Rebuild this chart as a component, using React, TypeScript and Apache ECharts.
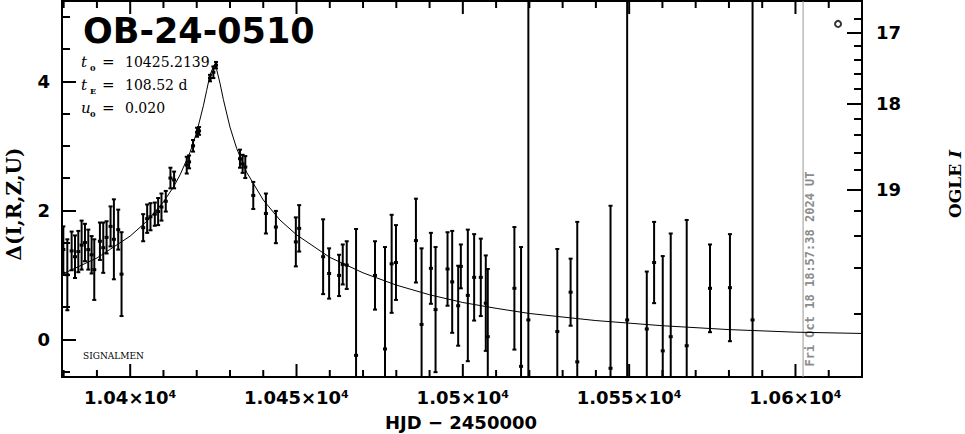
import React, { useEffect, useRef } from 'react';
import * as echarts from 'echarts';

// ---- axis ranges & ticks ----
const xMin = 10379.5;
const xMax = 10620;
const yMin = -0.585;
const yMax = 5.245;

const xMajorTicks = [10400, 10450, 10500, 10550, 10600];
const xMinorTicks = [10380, 10390, 10410, 10420, 10430, 10440, 10460, 10470, 10480, 10490, 10510, 10520, 10530, 10540, 10560, 10570, 10580, 10590, 10610];
const yMajorTicks = [0, 2, 4];
const yMinorTicks = [-0.5, 0.5, 1, 1.5, 2.5, 3, 3.5, 4.5, 5];

// OGLE I magnitude axis (right): magnitudes and their positions in Δ units
const ogleMajorMags = [17, 18, 19];
const ogleMajorDelta = [4.753, 3.648, 2.315];
const ogleMinorMags = [16.8, 17.2, 17.4, 17.6, 17.8, 18.2, 18.4, 18.6, 18.8, 19.2, 19.4, 19.6, 19.8];
const ogleMinorDelta = [4.966, 4.552, 4.33, 4.113, 3.881, 3.426, 3.167, 2.899, 2.625, 1.994, 1.606, 1.116, 0.392];

// ---- observations ----
const obsHJD = [
  10379.9, 10381.1, 10382.4, 10383.4, 10384.4, 10385.4, 10386.4, 10387.4, 10388.4, 10389.2,
  10390.9, 10391.9, 10392.9, 10394.1, 10395.1, 10396.4, 10397.4, 10403.9, 10405.1, 10406.1,
  10407.4, 10408.4, 10409.4, 10410.7, 10412.1, 10413.2, 10417.0, 10417.7, 10418.9, 10420.1,
  10420.7, 10424.0, 10425.0, 10425.8, 10433.0, 10433.8, 10434.6, 10437.0, 10440.8, 10443.8,
  10449.8, 10450.8, 10458.0, 10459.8, 10462.8, 10463.9, 10465.1, 10467.9, 10473.6, 10476.6,
  10478.6, 10479.9, 10485.9, 10487.6, 10490.4, 10491.8, 10495.4, 10496.8, 10498.6, 10499.4,
  10501.5, 10503.4, 10505.4, 10506.9, 10507.5, 10515.5, 10517.5, 10519.7, 10528.4, 10532.4,
  10534.4, 10544.4, 10549.4, 10555.3, 10557.5, 10560.1, 10562.5, 10567.3, 10574.3, 10580.3,
  10587.1,
];
const obsDelta = [
  1.39, 1.0, 1.37, 1.28, 1.36, 1.46, 1.5, 1.39, 1.31, 1.08,
  1.52, 1.42, 1.58, 1.75, 1.55, 1.7, 1.01, 1.73, 1.87, 1.9,
  1.94, 1.98, 2.05, 2.14, 2.5, 2.47, 2.7, 2.75, 3.0, 3.21,
  3.23, 4.05, 4.14, 4.25, 2.8, 2.72, 2.67, 2.23, 1.95, 1.74,
  1.51, 1.72, 1.28, 1.02, 0.99, 1.16, 1.15, -0.25, 0.99, -0.15,
  1.17, 1.19, 1.53, 0.23, 1.1, 0.46, 1.09, 0.89, 0.52, 1.13,
  0.68, 0.96, 0.96, 0.56, 0.04, 0.79, -0.42, 0.3, 0.12, 0.73,
  -0.35, -0.45, 0.3, 0.16, 1.19, -0.18, 0.04, -0.1, 0.79, 0.8,
  0.3,
];
const obsErr = [
  0.36, 0.55, 0.3, 0.33, 0.32, 0.38, 0.29, 0.31, 0.29, 0.47,
  0.29, 0.39, 0.25, 0.31, 0.62, 0.31, 0.65, 0.21, 0.22, 0.21,
  0.18, 0.21, 0.21, 0.16, 0.16, 0.13, 0.13, 0.1, 0.09, 0.07,
  0.06, 0.05, 0.09, 0.05, 0.14, 0.14, 0.17, 0.21, 0.31, 0.25,
  0.38, 0.36, 0.58, 0.39, 0.32, 0.31, 0.37, 1.96, 0.53, 1.58,
  0.76, 0.58, 0.65, 1.18, 0.55, 0.97, 0.57, 0.79, 0.62, 0.34,
  1.02, 0.67, 0.6, 0.74, 1.05, 0.95, 1.85, 9, 1.28, 0.52,
  2.17, 2.52, 9, 0.89, 0.63, 1.47, 1.6, 1.95, 0.68, 0.83,
  9,
];

// ---- model light curve ----
const modelHJD = [
  10379.5, 10380, 10390, 10400, 10405, 10410, 10413, 10415, 10418, 10420,
  10422, 10423, 10424, 10425.2, 10426, 10427, 10428, 10430, 10432, 10435,
  10440, 10445, 10450, 10460, 10470, 10480, 10490, 10500, 10510, 10520,
  10540, 10560, 10580, 10600, 10620,
];
const modelDelta = [
  1.01, 1.02, 1.26, 1.6, 1.83, 2.13, 2.36, 2.55, 2.9, 3.21,
  3.62, 3.86, 4.1, 4.25, 4.18, 3.97, 3.72, 3.29, 2.96, 2.59,
  2.16, 1.85, 1.62, 1.27, 1.03, 0.84, 0.69, 0.57, 0.48, 0.4,
  0.29, 0.21, 0.15, 0.11, 0.09,
];

// marker at top right and "now" line
const ogleMarker = [[10612.8, 4.89]];
const nowHJD = 10602.29;

const SANS = "'DejaVu Sans', sans-serif";
const SERIF = "'DejaVu Serif', serif";
const MONO = "'DejaVu Sans Mono', monospace";

function txt(x: number, y: number, text: string, st: any, extra: any = {}) {
  return {
    type: 'text',
    x,
    y,
    ...extra,
    style: {
      text,
      fill: '#000',
      align: 'left',
      textAlign: 'left',
      verticalAlign: 'middle',
      textVerticalAlign: 'middle',
      ...st,
    },
  };
}

function paramLine(y: number, sym: string, sub: string, value: string) {
  return [
    txt(81, y, sym, { fontFamily: SERIF, fontSize: 15, fontStyle: 'italic' }),
    txt(90, y + 6, sub, { fontFamily: SERIF, fontSize: 8, fontWeight: 'bold' }),
    txt(102, y, '=', { fontFamily: SERIF, fontSize: 15 }),
    txt(125, y, value, { fontFamily: SERIF, fontSize: 14 }),
  ];
}

function textGraphics(): any[] {
  return [
    txt(83, 31, 'OB-24-0510', { fontFamily: SANS, fontSize: 35, fontWeight: 'bold' }),
    ...paramLine(62, 't', '0', '10425.2139'),
    ...paramLine(85, 't', 'E', '108.52 d'),
    ...paramLine(108, 'u', '0', '0.020'),
    txt(83, 355.5, 'SIGNALMEN', { fontFamily: SERIF, fontSize: 9 }),
    txt(14, 204, 'Δ(I,R,Z,U)', { fontFamily: SERIF, fontSize: 20, fontWeight: 'bold', align: 'center', textAlign: 'center' }, { rotation: Math.PI / 2 }),
    {
      type: 'text',
      x: 955,
      y: 184,
      rotation: Math.PI / 2,
      style: {
        text: '{a|OGLE }{b|I}',
        align: 'center',
        textAlign: 'center',
        verticalAlign: 'middle',
        textVerticalAlign: 'middle',
        fill: '#000',
        rich: {
          a: { fontFamily: SERIF, fontSize: 17, fontWeight: 'bold', fill: '#000' },
          b: { fontFamily: SERIF, fontSize: 17, fontWeight: 'bold', fontStyle: 'italic', fill: '#000' },
        },
      },
    },
    txt(461, 422, 'HJD − 2450000', { fontFamily: SANS, fontSize: 18, fontWeight: 'bold', align: 'center', textAlign: 'center' }),
    txt(810, 269, 'Fri Oct 18 18:57:38 2024 UT', { fontFamily: MONO, fontSize: 12, fontWeight: 'bold', fill: '#8c8c8c', align: 'center', textAlign: 'center' }, { rotation: Math.PI / 2 }),
  ];
}

function buildOption(): any {
  const errData = obsHJD.map((t, i) => [t, obsDelta[i], obsErr[i]]);
  const modelData = modelHJD.map((t, i) => [t, modelDelta[i]]);

  const xFormatter = (v: number) => `${parseFloat((v / 10000).toFixed(4))}×10⁴`;
  const ogleFormatter = (v: number) => {
    const i = ogleMajorDelta.findIndex((d) => Math.abs(d - v) < 1e-6);
    return i >= 0 ? String(ogleMajorMags[i]) : '';
  };

  const yBase = {
    type: 'value',
    min: yMin,
    max: yMax,
    offset: 0,
    axisLine: { show: false, onZero: false },
    splitLine: { show: false },
  };
  const labelFont = { color: '#000', fontFamily: SANS, fontSize: 18, fontWeight: 'bold' };

  return {
    animation: false,
    backgroundColor: '#fff',
    grid: {
      left: 62,
      top: 1,
      width: 800,
      height: 376,
      show: true,
      borderColor: '#000',
      borderWidth: 2,
      backgroundColor: 'transparent',
      containLabel: false,
    },
    xAxis: [
      {
        type: 'value',
        min: xMin,
        max: xMax,
        position: 'bottom',
        axisLine: { show: false, onZero: false },
        splitLine: { show: false },
        axisTick: { show: false },
        axisLabel: { show: true, customValues: xMajorTicks, formatter: xFormatter, margin: 11, ...labelFont },
      },
    ],
    yAxis: [
      {
        ...yBase,
        position: 'left',
        axisTick: { show: true, inside: true, length: 14, customValues: yMajorTicks, lineStyle: { color: '#000', width: 2 } },
        axisLabel: { show: true, customValues: yMajorTicks, margin: 12, ...labelFont },
      },
      {
        ...yBase,
        position: 'left',
        axisTick: { show: true, inside: true, length: 8, customValues: yMinorTicks, lineStyle: { color: '#000', width: 2 } },
        axisLabel: { show: false },
      },
      {
        ...yBase,
        position: 'right',
        axisTick: { show: true, inside: true, length: 15, customValues: ogleMajorDelta, lineStyle: { color: '#000', width: 2 } },
        axisLabel: { show: true, customValues: ogleMajorDelta, formatter: ogleFormatter, margin: 14, ...labelFont },
      },
      {
        ...yBase,
        position: 'right',
        axisTick: { show: true, inside: true, length: 8, customValues: ogleMinorDelta, lineStyle: { color: '#000', width: 2 } },
        axisLabel: { show: false },
      },
    ],
    series: [
      {
        type: 'line',
        name: 'model',
        xAxisIndex: 0,
        yAxisIndex: 0,
        data: modelData,
        symbol: 'none',
        clip: true,
        lineStyle: { color: '#000', width: 1 },
        z: 2,
      },
      {
        type: 'line',
        name: 'now',
        xAxisIndex: 0,
        yAxisIndex: 0,
        data: [[nowHJD, yMin], [nowHJD, yMax]],
        symbol: 'none',
        lineStyle: { color: '#999', width: 1 },
        z: 1,
      },
      {
        type: 'custom',
        name: 'SIGNALMEN',
        xAxisIndex: 0,
        yAxisIndex: 0,
        clip: true,
        z: 3,
        encode: { x: 0, y: 1 },
        data: errData,
        renderItem: (params: any, api: any) => {
          const t = api.value(0);
          const v = api.value(1);
          const e = api.value(2);
          const c = api.coord([t, v]);
          const top = api.coord([t, v + e]);
          const bot = api.coord([t, v - e]);
          const st = { stroke: '#000', lineWidth: 2 };
          return {
            type: 'group',
            children: [
              { type: 'line', shape: { x1: c[0], y1: top[1], x2: c[0], y2: bot[1] }, style: st },
              { type: 'line', shape: { x1: c[0] - 2, y1: top[1], x2: c[0] + 2, y2: top[1] }, style: st },
              { type: 'line', shape: { x1: c[0] - 2, y1: bot[1], x2: c[0] + 2, y2: bot[1] }, style: st },
              { type: 'rect', shape: { x: c[0] - 2, y: c[1] - 1.5, width: 4, height: 3 }, style: { fill: '#000' } },
            ],
          };
        },
      },
      {
        type: 'scatter',
        name: 'OGLE',
        xAxisIndex: 0,
        yAxisIndex: 0,
        data: ogleMarker,
        symbol: 'circle',
        symbolSize: 6,
        itemStyle: { color: '#fff', borderColor: '#000', borderWidth: 2 },
        z: 4,
      },
    ],
    graphic: textGraphics(),
  };
}

export default function App() {
  const ref = useRef<HTMLDivElement>(null);
  useEffect(() => {
    if (!ref.current) return;
    const chart = echarts.init(ref.current, null, { renderer: 'svg' });
    chart.setOption(buildOption());
    // x-axis ticks on the bottom and top frame, positioned through the chart's own x/y scales
    const tickGraphics: any[] = [];
    const add = (tv: number, len: number) => {
      const pb: any = chart.convertToPixel({ gridIndex: 0 } as any, [tv, yMin]);
      const pt: any = chart.convertToPixel({ gridIndex: 0 } as any, [tv, yMax]);
      if (!pb || !pt || !isFinite(pb[0]) || !isFinite(pb[1]) || !isFinite(pt[1])) return;
      tickGraphics.push({ type: 'rect', z: 100, shape: { x: pb[0] - 1, y: pb[1] - len, width: 2, height: len }, style: { fill: '#000' } });
      tickGraphics.push({ type: 'rect', z: 100, shape: { x: pt[0] - 1, y: pt[1], width: 2, height: len }, style: { fill: '#000' } });
    };
    xMajorTicks.forEach((tv) => add(tv, 13));
    xMinorTicks.forEach((tv) => add(tv, 7));
    chart.setOption({ graphic: [...textGraphics(), ...tickGraphics] }, { replaceMerge: ['graphic'] } as any);
    return () => chart.dispose();
  }, []);
  return (
    <div
      ref={ref}
      style={{ position: 'fixed', left: 0, top: 0, width: 965, height: 434, background: '#fff' }}
    />
  );
}
